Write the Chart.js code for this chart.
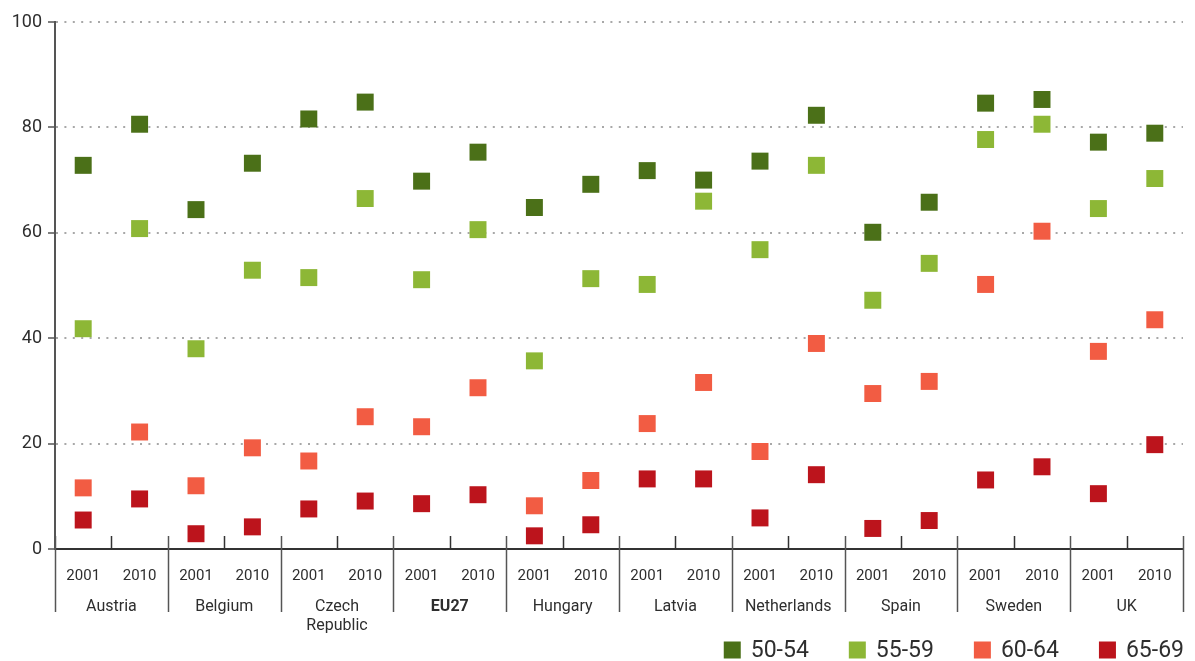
<!DOCTYPE html>
<html>
<head>
<meta charset="utf-8">
<script src="https://cdn.jsdelivr.net/npm/chart.js@4/dist/chart.umd.min.js"></script>
<style>
  html, body { margin: 0; padding: 0; background: #fff; }
  #wrap { width: 1195px; height: 661px; position: relative; }
</style>
</head>
<body>
<div id="wrap"><canvas id="chart"></canvas></div>
<script>
const countries = ['Austria', 'Belgium', ['Czech', 'Republic'], 'EU27', 'Hungary', 'Latvia', 'Netherlands', 'Spain', 'Sweden', 'UK'];
const years = ['2001', '2010'];
const ageGroups = ['50-54', '55-59', '60-64', '65-69'];
const groupColors = ['#4b7018', '#8db736', '#f25c43', '#bc141c'];

// employment rate by age group, one value per country/year pair
const rate5054 = [72.8, 80.6, 64.4, 73.2, 81.6, 84.8, 69.8, 75.3, 64.8, 69.2, 71.8, 70.0, 73.6, 82.3, 60.1, 65.8, 84.6, 85.3, 77.2, 78.9];
const rate5559 = [41.8, 60.8, 38.0, 52.9, 51.5, 66.5, 51.1, 60.6, 35.7, 51.3, 50.2, 66.0, 56.8, 72.8, 47.2, 54.2, 77.7, 80.6, 64.6, 70.3];
const rate6064 = [11.6, 22.2, 12.0, 19.2, 16.7, 25.1, 23.2, 30.6, 8.2, 13.0, 23.8, 31.6, 18.5, 39.0, 29.5, 31.8, 50.2, 60.3, 37.5, 43.5];
const rate6569 = [5.5, 9.5, 2.9, 4.2, 7.6, 9.1, 8.6, 10.3, 2.5, 4.6, 13.3, 13.3, 5.9, 14.1, 3.9, 5.4, 13.1, 15.6, 10.5, 19.8];
const yTicks = [0, 20, 40, 60, 80, 100];

const seriesValues = [rate5054, rate5559, rate6064, rate6569];
const xLabels = countries.flatMap(() => years);

const FONT = 'Roboto, "Noto Sans", sans-serif';
const TEXT = '#2e2e2e';

// separators under the axis: short ticks at every slot, long ones between countries
const axisFrame = {
    id: 'axisFrame',
    afterDraw(chart) {
        const { ctx, chartArea, scales } = chart;
        const x = scales.x;
        const base = chartArea.bottom;
        ctx.save();
        for (let i = 0; i <= xLabels.length; i++) {
            const px = Math.round(x.getPixelForValue(i - 0.5)) + 0.5;
            const isGroup = i % years.length === 0;
            ctx.beginPath();
            ctx.strokeStyle = isGroup ? '#555' : '#333';
            ctx.lineWidth = 1.5;
            ctx.moveTo(px, base - 13);
            ctx.lineTo(px, isGroup ? base + 63 : base);
            ctx.stroke();
        }
        ctx.restore();
    }
};

// legend row in the bottom right corner
const cornerLegend = {
    id: 'cornerLegend',
    afterDraw(chart) {
        const { ctx, chartArea } = chart;
        const box = 17;
        const gap = 40;
        const cy = 650;
        ctx.save();
        ctx.font = '23px ' + FONT;
        ctx.textBaseline = 'middle';
        let right = chartArea.right + 1;
        const items = chart.data.datasets.map(ds => ({ text: ds.label, color: ds.backgroundColor }));
        for (let i = items.length - 1; i >= 0; i--) {
            const w = ctx.measureText(items[i].text).width;
            const textX = right - w;
            const boxX = textX - 10 - box;
            ctx.fillStyle = items[i].color;
            ctx.fillRect(boxX, cy - box / 2, box, box);
            ctx.fillStyle = TEXT;
            ctx.fillText(items[i].text, textX, cy + 1);
            right = boxX - gap;
        }
        ctx.restore();
    }
};

new Chart(document.getElementById('chart'), {
    type: 'line',
    data: {
        labels: xLabels,
        datasets: ageGroups.map((label, k) => ({
            label: label,
            data: seriesValues[k],
            showLine: false,
            backgroundColor: groupColors[k],
            borderColor: groupColors[k],
            pointStyle: 'rect',
            pointRadius: 12,
            pointHoverRadius: 12,
            pointBorderWidth: 0,
            pointBackgroundColor: groupColors[k]
        }))
    },
    options: {
        responsive: true,
        maintainAspectRatio: false,
        animation: false,
        events: [],
        layout: {
            padding: { top: 22, right: 9, bottom: 24, left: 0 }
        },
        plugins: {
            legend: { display: false },
            tooltip: { enabled: false }
        },
        scales: {
            x: {
                type: 'category',
                offset: true,
                grid: { display: false, drawTicks: false },
                border: { display: true, color: '#333', width: 2 },
                ticks: {
                    color: TEXT,
                    font: { family: FONT, size: 15 },
                    padding: 18,
                    maxRotation: 0,
                    autoSkip: false
                },
                afterFit(scale) { scale.height = 40; }
            },
            x2: {
                type: 'category',
                position: 'bottom',
                labels: countries,
                offset: true,
                grid: { display: false, drawTicks: false },
                border: { display: false },
                ticks: {
                    color: TEXT,
                    font: (ctx) => ({
                        family: FONT,
                        size: 16,
                        weight: ctx.tick && ctx.tick.label === 'EU27' ? 'bold' : 'normal'
                    }),
                    padding: 8,
                    maxRotation: 0,
                    autoSkip: false
                },
                afterFit(scale) { scale.height = 48; }
            },
            y: {
                min: 0,
                max: 100,
                afterBuildTicks(scale) {
                    scale.ticks = yTicks.map(v => ({ value: v }));
                },
                grid: {
                    color: '#a8a8a8',
                    lineWidth: 2,
                    tickLength: 7,
                    tickColor: '#555',
                    tickWidth: 1.5,
                    tickBorderDash: []
                },
                border: { display: true, color: '#555', width: 2, dash: [2, 6.4] },
                ticks: {
                    color: TEXT,
                    font: { family: FONT, size: 18 },
                    padding: 6
                },
                afterFit(scale) { scale.width = 55; }
            }
        }
    },
    plugins: [axisFrame, cornerLegend]
});
</script>
</body>
</html>
